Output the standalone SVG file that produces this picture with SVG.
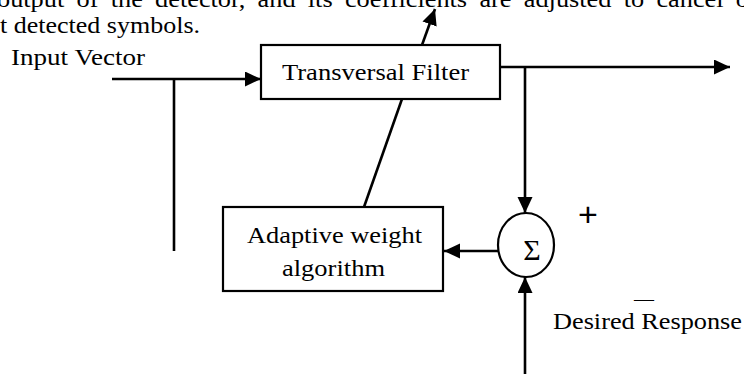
<svg xmlns="http://www.w3.org/2000/svg" width="744" height="374" viewBox="0 0 744 374">
<style>
  .t { font-family: "Liberation Serif", "Times New Roman", Times, serif; font-size: 23px; fill: #000; }
  .box { fill: #fff; stroke: #000; stroke-width: 2.2; }
  .ln { fill: none; stroke: #000; stroke-width: 2.6; }
</style>
<defs>
  <marker id="ah" markerUnits="userSpaceOnUse" markerWidth="17" markerHeight="16" refX="16" refY="7.5" orient="auto">
    <path d="M0,0 L16,7.5 L0,15 z" fill="#000"/>
  </marker>
</defs>
<rect width="744" height="374" fill="#fff"/>

<g id="caption">
  <text class="t" x="-3" y="7" textLength="752" lengthAdjust="spacingAndGlyphs" style="word-spacing:5px">output of the detector, and its coefficients are adjusted to cancel o</text>
  <text class="t" x="0" y="33" textLength="200" lengthAdjust="spacingAndGlyphs">t detected symbols.</text>
</g>

<g id="connectors">
  <line class="ln" x1="112" y1="79" x2="261" y2="79" marker-end="url(#ah)"/>
  <line class="ln" x1="174" y1="79" x2="174" y2="251"/>
  <line class="ln" x1="422" y1="45" x2="435" y2="9" marker-end="url(#ah)"/>
  <line class="ln" x1="500" y1="67" x2="730" y2="67" marker-end="url(#ah)"/>
  <line class="ln" x1="525" y1="67" x2="525" y2="213" marker-end="url(#ah)"/>
  <line class="ln" x1="525" y1="374" x2="525" y2="277" marker-end="url(#ah)"/>
  <line class="ln" x1="498" y1="251" x2="444" y2="251" marker-end="url(#ah)"/>
  <line class="ln" x1="402" y1="99" x2="364" y2="207"/>
</g>

<g id="input-vector">
  <text class="t" x="11" y="65" textLength="134" lengthAdjust="spacingAndGlyphs">Input Vector</text>
</g>

<g id="transversal-filter">
  <rect class="box" x="261" y="45" width="239" height="54"/>
  <text class="t" x="282" y="80" textLength="187" lengthAdjust="spacingAndGlyphs">Transversal Filter</text>
</g>

<g id="adaptive-weight">
  <rect class="box" x="223" y="207" width="220" height="84"/>
  <text class="t" x="247" y="243" textLength="175" lengthAdjust="spacingAndGlyphs">Adaptive weight</text>
  <text class="t" x="282" y="276" textLength="103" lengthAdjust="spacingAndGlyphs">algorithm</text>
</g>

<g id="summer">
  <ellipse class="box" cx="526" cy="245" rx="28" ry="32"/>
  <text x="532" y="260" text-anchor="middle" style="font-family:'Liberation Serif','Times New Roman',serif;font-size:30px">Σ</text>
</g>

<g id="plus-label">
  <text x="588" y="226" text-anchor="middle" style="font-family:'Liberation Sans',Arial,sans-serif;font-size:34px">+</text>
</g>

<g id="desired-response">
  <text x="644" y="306" text-anchor="middle" style="font-family:'Liberation Serif','Times New Roman',serif;font-size:20px">—</text>
  <text class="t" x="553" y="329" textLength="189" lengthAdjust="spacingAndGlyphs">Desired Response</text>
</g>
</svg>
